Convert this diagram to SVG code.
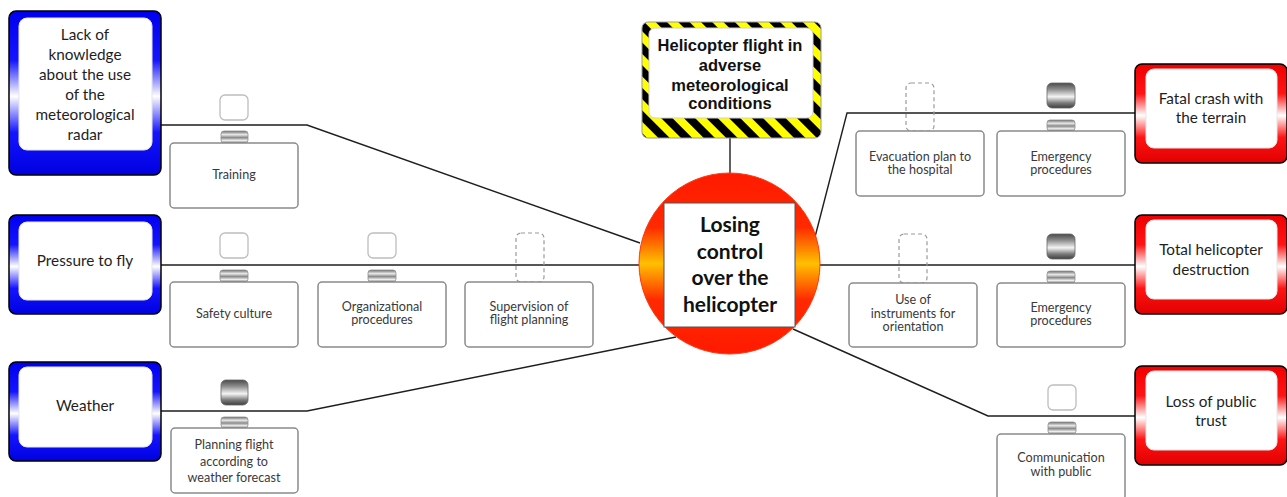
<svg xmlns="http://www.w3.org/2000/svg" width="1287" height="497" viewBox="0 0 1287 497">
<defs>
<linearGradient id="gBlue" x1="0" y1="0" x2="0" y2="1">
<stop offset="0" stop-color="#0000f0"/><stop offset="0.3" stop-color="#1414ff"/><stop offset="0.52" stop-color="#ffffff"/><stop offset="0.74" stop-color="#1414ff"/><stop offset="1" stop-color="#0000e0"/>
</linearGradient>
<linearGradient id="gRed" x1="0" y1="0" x2="0" y2="1">
<stop offset="0" stop-color="#f00000"/><stop offset="0.3" stop-color="#ff1414"/><stop offset="0.52" stop-color="#ffffff"/><stop offset="0.74" stop-color="#ff1414"/><stop offset="1" stop-color="#e00000"/>
</linearGradient>
<linearGradient id="gTop" x1="0" y1="0" x2="0" y2="1">
<stop offset="0" stop-color="#ff1a00"/><stop offset="0.3" stop-color="#ff2a00"/><stop offset="0.5" stop-color="#ffc000"/><stop offset="0.7" stop-color="#ff2a00"/><stop offset="1" stop-color="#ff1a00"/>
</linearGradient>
<linearGradient id="gBar" x1="0" y1="0" x2="0" y2="1">
<stop offset="0" stop-color="#6e6e6e"/><stop offset="0.3" stop-color="#e8e8e8"/><stop offset="0.55" stop-color="#8a8a8a"/><stop offset="0.8" stop-color="#f0f0f0"/><stop offset="1" stop-color="#707070"/>
</linearGradient>
<linearGradient id="gDark" x1="0" y1="0" x2="0" y2="1">
<stop offset="0" stop-color="#4a4a4a"/><stop offset="0.25" stop-color="#8c8c8c"/><stop offset="0.55" stop-color="#f4f4f4"/><stop offset="0.8" stop-color="#7a7a7a"/><stop offset="1" stop-color="#3e3e3e"/>
</linearGradient>
<pattern id="stripes" patternUnits="userSpaceOnUse" width="16" height="16" patternTransform="rotate(-45)">
<rect width="16" height="16" fill="#ffff00"/><rect width="8" height="16" fill="#000000"/>
</pattern>
<style>
.conn{fill:none;stroke:#1e1e1e;stroke-width:1.4}
.tout{stroke:#000;stroke-width:1.5}
.inner{fill:#fff;stroke:#e6e6e6;stroke-width:1}
.ttxt{font-family:Lato,"Liberation Sans",sans-serif;font-size:15.3px;fill:#1e1e1e;text-anchor:middle}
.btxt{font-family:Lato,"Liberation Sans",sans-serif;font-size:12.6px;fill:#3a3a3a;text-anchor:middle}
.bbox{fill:#fff;stroke:#8a8a8a;stroke-width:1.5}
.ind{fill:#fff;stroke:#bdbdbd;stroke-width:1.3}
.dash{fill:none;stroke:#9a9a9a;stroke-width:1.2;stroke-dasharray:4 3}
.bar{fill:url(#gBar);stroke:#909090;stroke-width:0.8}
.dark{fill:url(#gDark);stroke:#666;stroke-width:0.8}
</style>
</defs>
<rect width="1287" height="497" fill="#fff"/>

<g id="connectors">
<polyline class="conn" points="161,125 307,125 640,243"/>
<polyline class="conn" points="161,265 639,265"/>
<polyline class="conn" points="161,411 307,411 676,337"/>
<line class="conn" x1="730" y1="138" x2="730" y2="173"/>
<polyline class="conn" points="815,237 847,113 1135,113"/>
<polyline class="conn" points="820,265 1135,265"/>
<polyline class="conn" points="793,329 988,416 1135,416"/>
</g>

<g id="threat1">
<rect class="tout" x="9" y="11" width="152" height="164" rx="7" fill="url(#gBlue)"/>
<rect class="inner" x="19" y="18" width="133" height="132" rx="8"/>
<text class="ttxt" x="85" y="40">Lack of</text>
<text class="ttxt" x="85" y="60">knowledge</text>
<text class="ttxt" x="85" y="80">about the use</text>
<text class="ttxt" x="85" y="100">of the</text>
<text class="ttxt" x="85" y="120">meteorological</text>
<text class="ttxt" x="85" y="140">radar</text>
</g>
<g id="threat2">
<rect class="tout" x="9" y="215" width="152" height="99" rx="7" fill="url(#gBlue)"/>
<rect class="inner" x="19" y="222" width="133" height="78" rx="8"/>
<text class="ttxt" x="85" y="266">Pressure to fly</text>
</g>
<g id="threat3">
<rect class="tout" x="9" y="362" width="152" height="99" rx="7" fill="url(#gBlue)"/>
<rect class="inner" x="19" y="367" width="133" height="80" rx="8"/>
<text class="ttxt" x="85" y="411">Weather</text>
</g>

<g id="barrier-training">
<rect class="ind" x="220" y="95" width="28" height="25" rx="5"/>
<rect class="bar" x="221" y="131" width="27" height="12" rx="3"/>
<rect class="bbox" x="170" y="143" width="128" height="65" rx="4"/>
<text class="btxt" x="234" y="179">Training</text>
</g>
<g id="barrier-safety">
<rect class="ind" x="220" y="233" width="28" height="25" rx="5"/>
<rect class="bar" x="220" y="270" width="28" height="12" rx="3"/>
<rect class="bbox" x="170" y="282" width="128" height="65" rx="4"/>
<text class="btxt" x="234" y="318">Safety culture</text>
</g>
<g id="barrier-org">
<rect class="ind" x="368" y="233" width="28" height="25" rx="5"/>
<rect class="bar" x="368" y="270" width="28" height="12" rx="3"/>
<rect class="bbox" x="318" y="282" width="128" height="65" rx="4"/>
<text class="btxt" x="382" y="311">Organizational</text>
<text class="btxt" x="382" y="324">procedures</text>
</g>
<g id="barrier-supervision">
<rect class="dash" x="516" y="233" width="28" height="49" rx="5"/>
<rect class="bbox" x="465" y="282" width="128" height="65" rx="4"/>
<text class="btxt" x="529" y="311">Supervision of</text>
<text class="btxt" x="529" y="324">flight planning</text>
</g>
<g id="barrier-planning">
<rect class="dark" x="221" y="380" width="27" height="25" rx="5"/>
<rect class="bar" x="221" y="417" width="27" height="11" rx="3"/>
<rect class="bbox" x="171" y="428" width="127" height="65" rx="4"/>
<text class="btxt" x="234" y="449">Planning flight</text>
<text class="btxt" x="234" y="466">according to</text>
<text class="btxt" x="234" y="482">weather forecast</text>
</g>

<g id="hazard">
<rect x="642" y="22" width="179" height="116" rx="6" fill="url(#stripes)" stroke="#9a9a9a" stroke-width="1"/>
<rect x="649" y="28" width="164" height="90" rx="6" fill="#fff" stroke="#d0d0d0" stroke-width="1"/>
<g font-family="'Liberation Sans',Arial,sans-serif" font-weight="bold" font-size="16.5px" fill="#111" text-anchor="middle">
<text x="730" y="51">Helicopter flight in</text>
<text x="730" y="71">adverse</text>
<text x="730" y="91">meteorological</text>
<text x="730" y="109">conditions</text>
</g>
</g>

<g id="top-event">
<circle cx="729.5" cy="263.5" r="90.5" fill="url(#gTop)" stroke="#ff3a10" stroke-width="1"/>
<rect x="664" y="203" width="131" height="124" fill="#fff" stroke="#555" stroke-width="1"/>
<g font-family="Lato,'Liberation Sans',sans-serif" font-weight="bold" font-size="21px" fill="#111" text-anchor="middle">
<text x="730" y="232">Losing</text>
<text x="730" y="259">control</text>
<text x="730" y="285">over the</text>
<text x="730" y="312">helicopter</text>
</g>
</g>

<g id="barrier-evacuation">
<rect class="dash" x="906" y="83" width="28" height="48" rx="5"/>
<rect class="bbox" x="856" y="131" width="128" height="65" rx="4"/>
<text class="btxt" x="920" y="161">Evacuation plan to</text>
<text class="btxt" x="920" y="174">the hospital</text>
</g>
<g id="barrier-emergency1">
<rect class="dark" x="1047" y="83" width="28" height="25" rx="5"/>
<rect class="bar" x="1047" y="120" width="28" height="11" rx="3"/>
<rect class="bbox" x="997" y="131" width="128" height="65" rx="4"/>
<text class="btxt" x="1061" y="161">Emergency</text>
<text class="btxt" x="1061" y="174">procedures</text>
</g>
<g id="barrier-instruments">
<rect class="dash" x="899" y="234" width="28" height="49" rx="5"/>
<rect class="bbox" x="849" y="283" width="128" height="64" rx="4"/>
<text class="btxt" x="913" y="304">Use of</text>
<text class="btxt" x="913" y="318">instruments for</text>
<text class="btxt" x="913" y="331">orientation</text>
</g>
<g id="barrier-emergency2">
<rect class="dark" x="1047" y="234" width="28" height="25" rx="5"/>
<rect class="bar" x="1047" y="271" width="28" height="12" rx="3"/>
<rect class="bbox" x="997" y="283" width="128" height="64" rx="4"/>
<text class="btxt" x="1061" y="312">Emergency</text>
<text class="btxt" x="1061" y="325">procedures</text>
</g>
<g id="barrier-communication">
<rect class="ind" x="1048" y="385" width="28" height="25" rx="5"/>
<rect class="bar" x="1048" y="422" width="28" height="12" rx="3"/>
<rect class="bbox" x="997" y="434" width="128" height="66" rx="4"/>
<text class="btxt" x="1061" y="462">Communication</text>
<text class="btxt" x="1061" y="476">with public</text>
</g>

<g id="consequence1">
<rect class="tout" x="1135" y="64" width="152" height="99" rx="7" fill="url(#gRed)"/>
<rect class="inner" x="1146" y="69" width="131" height="79" rx="8"/>
<text class="ttxt" x="1211" y="104">Fatal crash with</text>
<text class="ttxt" x="1211" y="123">the terrain</text>
</g>
<g id="consequence2">
<rect class="tout" x="1135" y="215" width="152" height="99" rx="7" fill="url(#gRed)"/>
<rect class="inner" x="1146" y="220" width="131" height="79" rx="8"/>
<text class="ttxt" x="1211" y="255">Total helicopter</text>
<text class="ttxt" x="1211" y="275">destruction</text>
</g>
<g id="consequence3">
<rect class="tout" x="1135" y="366" width="152" height="99" rx="7" fill="url(#gRed)"/>
<rect class="inner" x="1146" y="371" width="131" height="79" rx="8"/>
<text class="ttxt" x="1211" y="407">Loss of public</text>
<text class="ttxt" x="1211" y="426">trust</text>
</g>
</svg>
